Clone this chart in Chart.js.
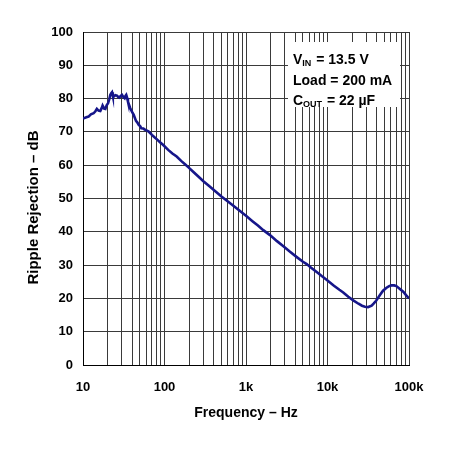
<!DOCTYPE html>
<html>
<head>
<meta charset="utf-8">
<script src="https://cdn.jsdelivr.net/npm/chart.js@4.4.1/dist/chart.umd.min.js"></script>
<style>
  html, body { margin: 0; padding: 0; background: #fff; }
  #wrap { width: 454px; height: 450px; position: relative; }
</style>
</head>
<body>
<div id="wrap"><canvas id="chart"></canvas></div>
<script>
// frequency points (Hz)
const freqHz = [10, 11, 11.7, 12.5, 13.5, 14.2, 14.8, 15.5, 16.3, 17, 17.4, 18.2, 18.8, 19.5, 20.3, 21, 21.6, 22.2, 22.7, 23.2,
  23.8, 25, 26.1, 27, 27.9, 29, 30.1, 31.2, 32.4, 33.2, 33.9, 34.8, 35.6, 38, 40, 41.9, 44.7, 46.5, 48.3, 50,
  52, 55, 58, 61, 64, 67, 70, 76, 82, 88, 95, 100, 111, 125, 141, 160, 180, 200, 230, 260,
  300, 350, 420, 500, 600, 700, 800, 1000, 1200, 1400, 1630, 1970, 2400, 2900, 3470, 4200, 5000, 5560, 6300, 7370,
  8500, 10000, 12000, 14000, 15600, 18000, 20700, 24000, 26500, 28800, 31500, 34800, 37000, 39500, 44000, 48000, 53000, 57000, 61000, 66000,
  70000, 76000, 85000, 92000, 100000];

// ripple rejection (dB)
const rejectionDb = [74.0, 74.4, 74.6, 75.3, 75.6, 76.2, 76.9, 76.4, 76.3, 77.2, 77.9, 77.0, 76.9, 78.0, 78.6, 79.8, 81.1, 81.6, 81.9, 80.8,
  80.6, 81.0, 80.9, 80.5, 80.3, 80.8, 81.1, 80.5, 80.1, 80.8, 81.1, 80.2, 79.1, 77.1, 76.0, 75.1, 73.3, 72.8, 72.1, 71.8,
  71.1, 71.0, 70.6, 70.4, 70.1, 69.6, 69.1, 68.3, 67.6, 66.9, 66.2, 65.7, 64.6, 63.5, 62.6, 61.3, 60.2, 59.2, 57.8, 56.6,
  55.2, 53.8, 52.2, 50.6, 49.1, 47.8, 46.7, 44.8, 43.2, 41.9, 40.5, 39.0, 37.2, 35.6, 34.0, 32.4, 31.0, 30.3, 29.2, 27.9,
  26.7, 25.4, 23.8, 22.6, 21.8, 20.5, 19.4, 18.4, 17.8, 17.5, 17.4, 17.8, 18.5, 19.3, 21.0, 22.3, 23.2, 23.7, 23.9, 23.9,
  23.7, 23.0, 22.0, 21.0, 20.0];

// axis ticks
const decadeValues = [10, 100, 1000, 10000, 100000];
const decadeLabels = ['10', '100', '1k', '10k', '100k'];
const yTicks = [0, 10, 20, 30, 40, 50, 60, 70, 80, 90, 100];

const FONT = 'Liberation Sans, Arial, Helvetica, sans-serif';

// white box with test conditions, top right of the plot
const conditionsBox = {
    id: 'conditions',
    afterDatasetsDraw(chart) {
        const {ctx, chartArea: a} = chart;
        const x = a.right - 116;
        ctx.save();
        ctx.fillStyle = '#fff';
        ctx.fillRect(a.right - 121, a.top + 10, 112, 65);
        ctx.fillStyle = '#000';
        ctx.textBaseline = 'alphabetic';

        const big = 'bold 14px ' + FONT;
        const small = 'bold 9px ' + FONT;

        // line with subscript: main, sub, rest
        function subLine(main, sub, rest, y) {
            ctx.font = big;
            ctx.fillText(main, x, y);
            let w = ctx.measureText(main).width;
            ctx.font = small;
            ctx.fillText(sub, x + w, y + 2);
            w += ctx.measureText(sub).width;
            ctx.font = big;
            ctx.fillText(rest, x + w + 1, y);
        }

        subLine('V', 'IN', ' = 13.5 V', a.top + 32);
        ctx.font = big;
        ctx.fillText('Load = 200 mA', x, a.top + 53);
        subLine('C', 'OUT', ' = 22 µF', a.top + 73);

        // y axis title, sits a little below the plot centre in the original
        ctx.translate(33.5, (a.top + a.bottom) / 2 + 9);
        ctx.rotate(-Math.PI / 2);
        ctx.font = 'bold 15px ' + FONT;
        ctx.textAlign = 'center';
        ctx.textBaseline = 'middle';
        ctx.fillText('Ripple Rejection – dB', 0, 0);
        ctx.restore();
    }
};

const ctx = document.getElementById('chart').getContext('2d');
const chart = new Chart(ctx, {
    type: 'line',
    data: {
        datasets: [{
            data: freqHz.map((f, i) => ({x: f, y: rejectionDb[i]})),
            borderColor: '#16168a',
            borderWidth: 2.6,
            pointRadius: 0,
            tension: 0,
            fill: false
        }]
    },
    options: {
        responsive: true,
        maintainAspectRatio: false,
        animation: false,
        layout: { padding: { top: 32, right: 45, left: 0, bottom: 0 } },
        plugins: {
            legend: { display: false },
            tooltip: { enabled: false }
        },
        scales: {
            x: {
                type: 'logarithmic',
                min: 10,
                max: 100000,
                afterBuildTicks(scale) {
                    let t = [];
                    for (let d = 0; d < decadeValues.length - 1; d++) {
                        for (let m = 1; m < 10; m++) t.push({value: decadeValues[d] * m});
                    }
                    t.push({value: decadeValues[decadeValues.length - 1]});
                    scale.ticks = t;
                },
                afterFit(scale) { scale.height = 85; },
                grid: { color: '#3a3a3a', lineWidth: 1, drawTicks: false },
                border: { display: true, color: '#000', width: 1 },
                ticks: {
                    autoSkip: false,
                    maxRotation: 0,
                    padding: 15,
                    color: '#000',
                    font: { family: FONT, size: 13, weight: 'bold' },
                    callback: function (v) {
                        const i = decadeValues.indexOf(v);
                        return i >= 0 ? decadeLabels[i] : '';
                    }
                },
                title: {
                    display: true,
                    text: 'Frequency – Hz',
                    color: '#000',
                    font: { family: FONT, size: 14, weight: 'bold' },
                    padding: { top: 0, bottom: 28 }
                }
            },
            y: {
                min: 0,
                max: 100,
                afterBuildTicks(scale) {
                    scale.ticks = yTicks.map(v => ({value: v}));
                },
                afterFit(scale) { scale.width = 83; },
                grid: { color: '#3a3a3a', lineWidth: 1, drawTicks: false },
                border: { display: true, color: '#000', width: 1 },
                ticks: {
                    padding: 10,
                    color: '#000',
                    font: { family: FONT, size: 13, weight: 'bold' }
                },
                title: { display: false }
            }
        }
    },
    plugins: [conditionsBox]
});
</script>
</body>
</html>
